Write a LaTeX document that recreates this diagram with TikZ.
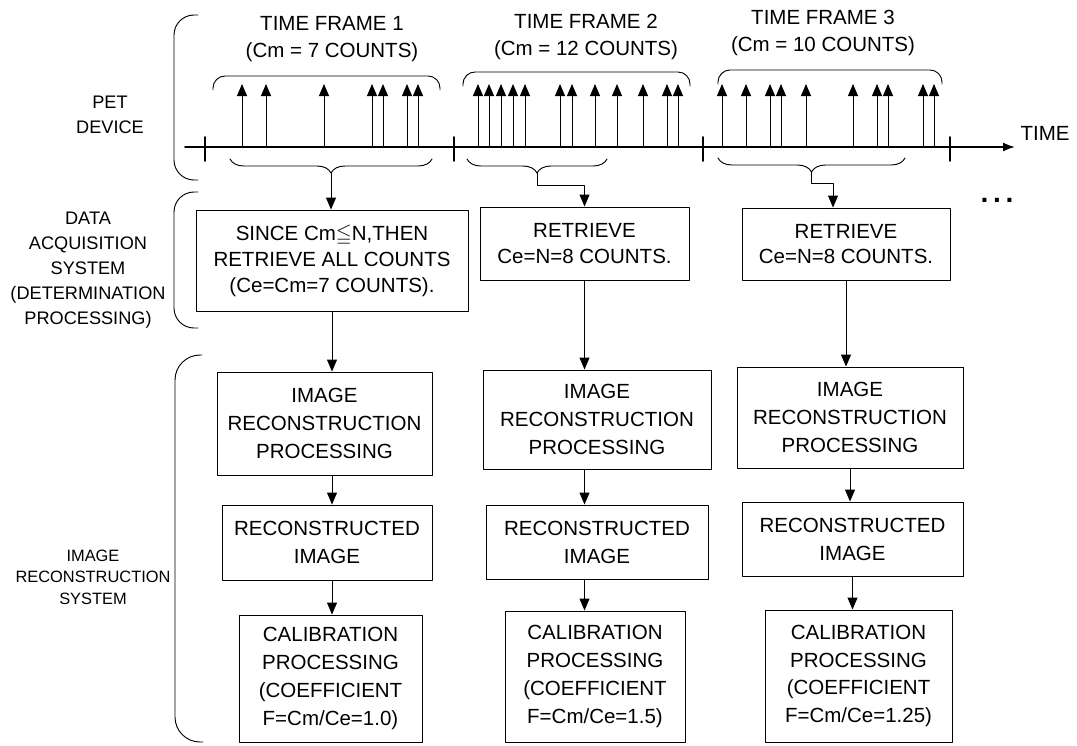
\documentclass[tikz,border=0pt]{standalone}
\usepackage{amssymb}
\usepackage{fontspec}
\setmainfont{Liberation Sans}
\usetikzlibrary{arrows.meta,decorations.pathreplacing}

\begin{document}
\begin{tikzpicture}[
  x=0.03cm,y=-0.03cm,
  line cap=round,line join=round,
  flow/.style={-{Triangle[length=3.6mm,width=3mm]},line width=0.8pt},
  count/.style={-{Triangle[length=3.6mm,width=3mm]},line width=0.7pt},
  procbox/.style={draw,line width=0.8pt,align=center,inner sep=0pt,
    font=\fontsize{17.5}{23.8}\selectfont},
  acqbox/.style={procbox,font=\fontsize{17.5}{22.1}\selectfont},
  sidelabel/.style={align=center,font=\fontsize{15.5}{21.3}\selectfont},
  framelabel/.style={align=center,font=\fontsize{17.5}{23}\selectfont},
  wh/.style 2 args={minimum width=#1*0.03cm,minimum height=#2*0.03cm}
]
  \useasboundingbox (0,0) rectangle (1077,745);

  % Side labels and their brackets.
  \node[sidelabel] (pet) at (110,115) {PET\\DEVICE};
  \node[sidelabel] (das) at (88,270)
    {DATA\\ACQUISITION\\SYSTEM\\(DETERMINATION\\PROCESSING)};
  \node[sidelabel,font=\fontsize{14}{18.3}\selectfont] (irs) at (93,577)
    {IMAGE\\RECONSTRUCTION\\SYSTEM};

  \draw[line width=0.8pt,rounded corners=0.6cm]
    (198,15) -- (174,15) -- (174,180) -- (198,180);
  \draw[line width=0.8pt,rounded corners=0.6cm]
    (198,192) -- (174,192) -- (174,328) -- (198,328);
  \draw[line width=0.8pt,rounded corners=0.75cm]
    (202,355) -- (175,355) -- (175,742) -- (203,742);

  % Time axis with the frame boundaries.
  \coordinate (tstart) at (185,147);
  \coordinate (tend) at (1015,147);
  \draw[line width=1.6pt,-{Latex[length=3.6mm,width=2.7mm]}]
    (tstart) -- (tend);
  \node[framelabel] (timelbl) at (1045,133) {TIME};
  \foreach \tx in {205,454,703,950}
    \draw[line width=1.6pt] (\tx,137) -- (\tx,161);

  % Detected counts.
  \foreach \cx in {242,266,324,372,383,407,418,
                   478,489,501,513,525,560,572,595,617,643,667,678,
                   722,746,770,781,806,853,877,888,923,934}
    \draw[count] (\cx,147) -- (\cx,84);

  % Frame titles and the arcs over the counts.
  \node[framelabel] (title1) at (332,39) {TIME FRAME 1\\(Cm = 7 COUNTS)};
  \node[framelabel] (title2) at (586,37) {TIME FRAME 2\\(Cm = 12 COUNTS)};
  \node[framelabel] (title3) at (823,33) {TIME FRAME 3\\(Cm = 10 COUNTS)};

  \draw[line width=0.8pt,rounded corners=0.36cm]
    (213,90) -- (213,76) -- (440,76) -- (440,90);
  \draw[line width=0.8pt,rounded corners=0.36cm]
    (463,86) -- (463,72) -- (690,72) -- (690,86);
  \draw[line width=0.8pt,rounded corners=0.36cm]
    (718,84) -- (718,70) -- (942,70) -- (942,84);

  % Braces under the axis gather the retrieved counts.
  \draw[line width=0.8pt,decorate,
        decoration={brace,mirror,amplitude=0.42cm}]
    (230,159) -- (432,159);
  \draw[line width=0.8pt,decorate,
        decoration={brace,mirror,amplitude=0.42cm}]
    (467,159) -- (607,159);
  \draw[line width=0.8pt,decorate,
        decoration={brace,mirror,amplitude=0.42cm}]
    (718,158) -- (905,158);
  \coordinate (tip1) at (331,173);
  \coordinate (tip2) at (537,173);
  \coordinate (tip3) at (811.5,172);

  % Determination processing.
  \node[acqbox,wh={272}{101}] (acq1) at (332,260.5)
    {SINCE Cm$\leqq$N,THEN\\RETRIEVE ALL COUNTS\\(Ce=Cm=7 COUNTS).};
  \node[acqbox,wh={209}{73}] (acq2) at (584.5,243.5)
    {RETRIEVE\\Ce=N=8 COUNTS.};
  \node[acqbox,wh={208}{72}] (acq3) at (846,244)
    {RETRIEVE\\Ce=N=8 COUNTS.};
  \node[font=\fontsize{24}{24}\selectfont\bfseries] (more) at (997,200)
    {.\,.\,.};

  \draw[flow] (tip1) -- (tip1 |- acq1.north);
  \draw[flow] (tip2) -- ++(0,12) -| (acq2.north);
  \draw[flow] (tip3) -- ++(0,11) -| ([xshift=-0.39cm]acq3.north);

  % Image reconstruction and calibration.
  \node[procbox,wh={215}{103}] (recon1) at (324.5,423.5)
    {IMAGE\\RECONSTRUCTION\\PROCESSING};
  \node[procbox,wh={210}{75}] (recimg1) at (327,542.5)
    {RECONSTRUCTED\\IMAGE};
  \node[procbox,wh={183}{127}] (calib1) at (330.5,678.5)
    {CALIBRATION\\PROCESSING\\(COEFFICIENT\\F=Cm/Ce=1.0)};

  \node[procbox,wh={228}{99}] (recon2) at (597,419.5)
    {IMAGE\\RECONSTRUCTION\\PROCESSING};
  \node[procbox,wh={222}{74}] (recimg2) at (597,542)
    {RECONSTRUCTED\\IMAGE};
  \node[procbox,wh={180}{131}] (calib2) at (595,676.5)
    {CALIBRATION\\PROCESSING\\(COEFFICIENT\\F=Cm/Ce=1.5)};

  \node[procbox,wh={226}{101}] (recon3) at (850,417.5)
    {IMAGE\\RECONSTRUCTION\\PROCESSING};
  \node[procbox,wh={221}{74}] (recimg3) at (852.5,539)
    {RECONSTRUCTED\\IMAGE};
  \node[procbox,wh={187}{132}] (calib3) at (858.5,676)
    {CALIBRATION\\PROCESSING\\(COEFFICIENT\\F=Cm/Ce=1.25)};

  \draw[flow] (acq1.south) -- (acq1.south |- recon1.north);
  \draw[flow] (recon1.south -| acq1.south) -- (recimg1.north -| acq1.south);
  \draw[flow] (recimg1.south -| acq1.south) -- (calib1.north -| acq1.south);

  \draw[flow] (acq2.south) -- (acq2.south |- recon2.north);
  \draw[flow] (recon2.south -| acq2.south) -- (recimg2.north -| acq2.south);
  \draw[flow] (recimg2.south -| acq2.south) -- (calib2.north -| acq2.south);

  \draw[flow] (acq3.south) -- (acq3.south |- recon3.north);
  \draw[flow] (recon3.south) -- (recon3.south |- recimg3.north);
  \draw[flow] (recimg3.south) -- (recimg3.south |- calib3.north);
\end{tikzpicture}
\end{document}
